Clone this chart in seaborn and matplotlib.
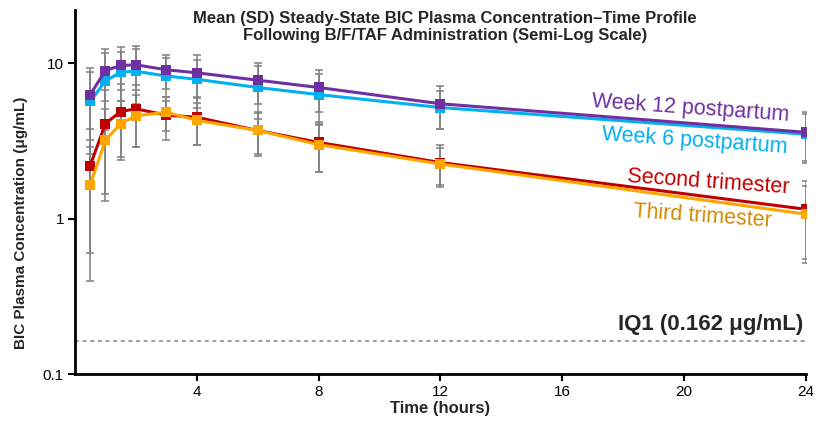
import numpy as np
import pandas as pd
import matplotlib
matplotlib.use("Agg")
import matplotlib.pyplot as plt
import seaborn as sns

# ---- data ----
time_h = [0.5, 1, 1.5, 2, 3, 4, 6, 8, 12, 24]
series_names = ["Week 12 postpartum", "Week 6 postpartum", "Second trimester", "Third trimester"]
wk12_mean = [6.3, 9.0, 9.7, 9.8, 9.1, 8.7, 7.8, 7.0, 5.5, 3.6]
wk12_sd = [3.1, 3.3, 3.0, 3.1, 2.3, 2.6, 2.3, 2.1, 1.7, 1.25]
wk6_mean = [5.7, 7.7, 8.8, 8.9, 8.3, 7.9, 7.0, 6.3, 5.2, 3.5]
wk6_sd = [3.1, 4.0, 3.1, 3.4, 2.6, 2.7, 2.6, 2.2, 1.4, 1.2]
second_mean = [2.2, 4.1, 4.9, 5.1, 4.65, 4.5, 3.7, 3.1, 2.3, 1.15]
second_sd = [1.6, 2.65, 2.5, 2.2, 1.45, 1.5, 1.15, 1.1, 0.7, 0.6]
third_mean = [1.65, 3.2, 4.1, 4.6, 4.85, 4.3, 3.7, 3.0, 2.25, 1.07]
third_sd = [1.25, 1.9, 1.6, 1.7, 1.2, 1.3, 1.1, 1.0, 0.6, 0.55]
iq1 = 0.162
x_ticks = [4, 8, 12, 16, 20, 24]
y_ticks = [0.1, 1, 10]
y_ticklabels = ["0.1", "1", "10"]

line_colors = {"Week 12 postpartum": "#7030A0", "Week 6 postpartum": "#00B0F0",
               "Second trimester": "#C00000", "Third trimester": "#FFA500"}
text_colors = {"Week 12 postpartum": "#7030A0", "Week 6 postpartum": "#00B0F0",
               "Second trimester": "#C00000", "Third trimester": "#D08A00"}

means = dict(zip(series_names, [wk12_mean, wk6_mean, second_mean, third_mean]))
sds = dict(zip(series_names, [wk12_sd, wk6_sd, second_sd, third_sd]))

rows = []
for name in series_names:
    for t, m, s in zip(time_h, means[name], sds[name]):
        rows.append({"time": t, "conc": m, "sd": s, "group": name})
df = pd.DataFrame(rows)

sns.set_style("ticks")
plt.rcParams["font.family"] = ["Liberation Sans", "DejaVu Sans"]

fig = plt.figure(figsize=(8.16, 4.22), dpi=100)
ax = fig.add_axes([0.0919, 0.1137, 0.8958, 0.862])

# error bars (SD)
for name in series_names:
    sub = df[df.group == name]
    ax.errorbar(sub["time"], sub["conc"], yerr=sub["sd"], fmt="none",
                ecolor="#808080", elinewidth=1.1, capsize=3, capthick=1.1, zorder=1)

hue_order = ["Week 6 postpartum", "Week 12 postpartum", "Second trimester", "Third trimester"]
sns.lineplot(data=df, x="time", y="conc", hue="group", hue_order=hue_order,
             palette=line_colors, marker="s", markersize=6.5, markeredgewidth=0,
             linewidth=2.2, legend=False, ax=ax, zorder=3)

ax.set_yscale("log")
ax.set_xlim(0, 24)
ax.set_ylim(0.1, 22)
ax.set_xticks(x_ticks)
ax.set_xticklabels([str(v) for v in x_ticks], fontsize=11)
ax.set_yticks(y_ticks)
ax.set_yticklabels(y_ticklabels, fontsize=11)
ax.yaxis.set_minor_locator(matplotlib.ticker.NullLocator())
ax.tick_params(axis="both", direction="out", length=5, width=1.5, colors="black", pad=3)
for s in ["top", "right"]:
    ax.spines[s].set_visible(False)
for s in ["left", "bottom"]:
    ax.spines[s].set_linewidth(2)
    ax.spines[s].set_color("black")

ax.axhline(iq1, color="#808080", linestyle=(0, (2.5, 2.5)), linewidth=1.1, zorder=0)
ax.text(23.9, 0.178, "IQ1 (0.162 μg/mL)", fontsize=16, fontweight="bold",
        ha="right", va="bottom")

ax.set_xlabel("Time (hours)", fontsize=12, fontweight="bold", labelpad=1)
ax.set_ylabel("BIC Plasma Concentration (μg/mL)", fontsize=11, fontweight="bold")
ax.yaxis.set_label_coords(-0.064, 0.415)

label_pos = {"Week 12 postpartum": (20.2, 5.15), "Week 6 postpartum": (20.35, 3.15),
             "Second trimester": (20.8, 1.72), "Third trimester": (20.6, 1.03)}
for name in series_names:
    x, y = label_pos[name]
    ax.text(x, y, name, color=text_colors[name], fontsize=15.5, rotation=-4,
            ha="center", va="center", rotation_mode="anchor")

fig.text(0.545, 0.975, "Mean (SD) Steady-State BIC Plasma Concentration–Time Profile\n"
         "Following B/F/TAF Administration (Semi-Log Scale)",
         ha="center", va="top", fontsize=12, fontweight="bold", linespacing=1.2)

fig.savefig("out.png", dpi=100)
